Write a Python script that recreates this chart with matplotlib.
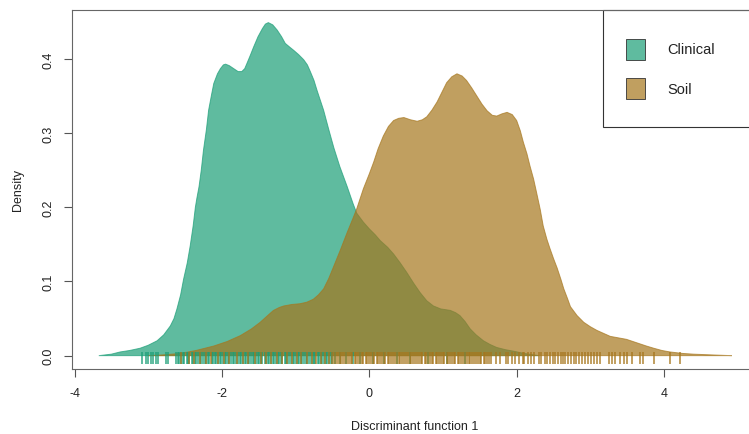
import matplotlib
matplotlib.use("Agg")
import matplotlib.pyplot as plt
from matplotlib.patches import Rectangle

plt.rcParams['font.family'] = ['Liberation Sans', 'DejaVu Sans']

# density curves
clin_x = [-3.67, -3.50, -3.38, -3.25, -3.11, -3.00, -2.88, -2.79, -2.70, -2.65,
          -2.61, -2.56, -2.52, -2.47, -2.43, -2.39, -2.36, -2.34, -2.31, -2.28,
          -2.25, -2.21, -2.18, -2.14, -2.11, -2.06, -2.02, -1.98, -1.95, -1.90,
          -1.84, -1.78, -1.73, -1.69, -1.66, -1.61, -1.57, -1.51, -1.45, -1.41,
          -1.37, -1.31, -1.25, -1.19, -1.14, -1.08, -1.03, -0.96, -0.89, -0.84,
          -0.80, -0.75, -0.71, -0.66, -0.62, -0.55, -0.48, -0.40, -0.30, -0.22,
          -0.17, -0.08, 0.00, 0.08, 0.15, 0.25, 0.33, 0.42, 0.51, 0.60,
          0.69, 0.78, 0.87, 0.97, 1.10, 1.17, 1.23, 1.30, 1.37, 1.45,
          1.55, 1.64, 1.73, 1.85, 1.96, 2.10, 2.30]
clin_y = [0.000, 0.002, 0.005, 0.007, 0.010, 0.014, 0.020, 0.028, 0.040, 0.050,
          0.063, 0.082, 0.103, 0.125, 0.148, 0.175, 0.200, 0.212, 0.228, 0.250,
          0.277, 0.305, 0.331, 0.352, 0.367, 0.380, 0.387, 0.392, 0.393, 0.391,
          0.387, 0.383, 0.383, 0.387, 0.394, 0.406, 0.416, 0.430, 0.441, 0.447,
          0.449, 0.446, 0.439, 0.430, 0.421, 0.416, 0.412, 0.406, 0.399, 0.392,
          0.383, 0.371, 0.358, 0.343, 0.331, 0.305, 0.280, 0.255, 0.228, 0.205,
          0.192, 0.180, 0.171, 0.163, 0.155, 0.146, 0.137, 0.125, 0.112, 0.098,
          0.085, 0.074, 0.067, 0.063, 0.061, 0.058, 0.054, 0.046, 0.036, 0.028,
          0.020, 0.015, 0.011, 0.008, 0.006, 0.003, 0.000]

soil_x = [-3.00, -2.80, -2.56, -2.35, -2.11, -1.93, -1.75, -1.60, -1.48, -1.38,
          -1.30, -1.22, -1.16, -1.05, -0.94, -0.85, -0.76, -0.69, -0.62, -0.55,
          -0.48, -0.39, -0.30, -0.23, -0.17, -0.08, 0.00, 0.06, 0.12, 0.19,
          0.26, 0.33, 0.40, 0.47, 0.56, 0.65, 0.72, 0.78, 0.85, 0.92,
          0.99, 1.05, 1.12, 1.19, 1.26, 1.32, 1.39, 1.46, 1.53, 1.60,
          1.67, 1.73, 1.80, 1.87, 1.94, 2.00, 2.05, 2.09, 2.14, 2.18,
          2.23, 2.27, 2.32, 2.36, 2.41, 2.45, 2.50, 2.55, 2.60, 2.64,
          2.69, 2.73, 2.82, 2.91, 3.00, 3.09, 3.18, 3.27, 3.38, 3.49,
          3.58, 3.67, 3.76, 3.86, 3.97, 4.08, 4.25, 4.40, 4.65, 4.92]
soil_y = [0.000, 0.001, 0.003, 0.007, 0.013, 0.019, 0.027, 0.036, 0.045, 0.054,
          0.061, 0.065, 0.067, 0.069, 0.070, 0.072, 0.076, 0.082, 0.090, 0.104,
          0.121, 0.143, 0.166, 0.183, 0.198, 0.225, 0.245, 0.261, 0.279, 0.296,
          0.309, 0.317, 0.320, 0.321, 0.318, 0.316, 0.318, 0.322, 0.331, 0.342,
          0.356, 0.368, 0.376, 0.380, 0.377, 0.371, 0.361, 0.350, 0.339, 0.330,
          0.324, 0.323, 0.326, 0.328, 0.325, 0.317, 0.303, 0.288, 0.272, 0.256,
          0.238, 0.220, 0.197, 0.175, 0.157, 0.145, 0.131, 0.118, 0.103, 0.090,
          0.077, 0.066, 0.054, 0.045, 0.039, 0.034, 0.030, 0.026, 0.024, 0.022,
          0.019, 0.016, 0.013, 0.010, 0.007, 0.005, 0.003, 0.002, 0.001, 0.000]

# rug positions (estimated)
clin_rug = [-3.09, -3.03, -3.00, -2.96, -2.94, -2.90, -2.87, -2.76, -2.73,
            -2.62, -2.60, -2.58, -2.55, -2.53, -2.51, -2.48, -2.46, -2.44, -2.41,
            -2.39, -2.37, -2.35, -2.32, -2.30, -2.28, -2.26, -2.23, -2.21, -2.19,
            -2.17, -2.14, -2.12, -2.10, -2.08, -2.05, -2.03, -2.01, -1.99, -1.96,
            -1.94, -1.92, -1.90, -1.87, -1.85, -1.83, -1.81, -1.78, -1.76, -1.74,
            -1.72, -1.69, -1.67, -1.65, -1.63, -1.60, -1.58, -1.56, -1.54, -1.51,
            -1.49, -1.47, -1.45, -1.42, -1.40, -1.38, -1.36, -1.33, -1.31, -1.29,
            -1.27, -1.24, -1.22, -1.20, -1.18, -1.15, -1.13, -1.11, -1.09, -1.06,
            -1.04, -1.02, -1.00, -0.97, -0.95, -0.93, -0.91, -0.88, -0.86, -0.84,
            -0.82, -0.79, -0.77, -0.75, -0.73, -0.70, -0.68, -0.66, -0.64, -0.61,
            -0.59, -0.57, -0.55, -0.52, -0.50, -0.47,
            -0.40, -0.31, -0.22, -0.12, 0.05, 0.20, 0.38, 0.55, 0.80, 1.05, 1.30]
soil_rug = [-2.56, -2.45, -2.38, -2.30, -2.22, -2.15, -2.05, -1.97, -1.90, -1.80,
            -1.72, -1.65, -1.55, -1.47, -1.40, -1.33, -1.25, -1.18, -1.12, -1.05,
            -0.98, -0.92, -0.85, -0.78, -0.72, -0.66, -0.60, -0.55,
            -0.50, -0.48, -0.45, -0.43, -0.40, -0.38, -0.35, -0.33, -0.30, -0.28,
            -0.25, -0.23, -0.20, -0.18, -0.15, -0.13, -0.10, -0.08, -0.05, -0.03,
            0.00, 0.02, 0.05, 0.07, 0.10, 0.12, 0.15, 0.17, 0.20, 0.22,
            0.25, 0.27, 0.30, 0.32, 0.35, 0.37, 0.40, 0.42, 0.45, 0.47,
            0.50, 0.52, 0.55, 0.57, 0.60, 0.62, 0.65, 0.67, 0.70, 0.72,
            0.75, 0.77, 0.80, 0.82, 0.85, 0.87, 0.90, 0.92, 0.95, 0.97,
            1.00, 1.02, 1.05, 1.07, 1.10, 1.12, 1.15, 1.17, 1.20, 1.22,
            1.25, 1.27, 1.30, 1.32, 1.35, 1.37, 1.40, 1.42, 1.45, 1.47,
            1.50, 1.52, 1.55, 1.57, 1.60, 1.62, 1.65,
            1.72, 1.78, 1.85, 1.88, 1.94, 1.98, 2.03, 2.08, 2.10, 2.15,
            2.20, 2.24, 2.30, 2.33, 2.38, 2.41, 2.45, 2.49, 2.52, 2.56,
            2.60, 2.63, 2.66, 2.70, 2.74, 2.78, 2.81, 2.85, 2.88, 2.93,
            2.97, 3.01, 3.05, 3.09, 3.13, 3.25, 3.29, 3.34, 3.40, 3.45,
            3.50, 3.56, 3.67, 3.72, 3.86, 4.08, 4.22]

groups = ["Clinical", "Soil"]
teal = (0x1B / 255, 0x9E / 255, 0x77 / 255, 0.7)
brown = (0xA6 / 255, 0x76 / 255, 0x1D / 255, 0.7)
xticks = [-4, -2, 0, 2, 4]
yticks = [0.0, 0.1, 0.2, 0.3, 0.4]

W, H = 749, 435
fig = plt.figure(figsize=(W / 100, H / 100), dpi=100)
ax = fig.add_axes([72.3 / W, 65 / H, 684.6 / W, 359 / H])

ax.fill(clin_x, clin_y, facecolor=teal, edgecolor=teal, lw=0.7)
ax.fill(soil_x, soil_y, facecolor=brown, edgecolor=brown, lw=0.7)
ax.vlines(clin_rug, -0.011, 0.0055, color=teal, lw=1.4)
ax.vlines(soil_rug, -0.011, 0.0055, color=brown, lw=1.4)

ax.set_xlim(-4.03, 5.26)
ax.set_ylim(-0.018, 0.466)
ax.set_xticks(xticks)
ax.set_xticklabels([str(t) for t in xticks])
ax.set_yticks(yticks)
ax.set_yticklabels(["%.1f" % t for t in yticks], rotation=90, va="center")
ax.tick_params(length=6, width=0.8, color="#555555", labelsize=9,
               labelcolor="#222222", pad=7)

for s in ax.spines.values():
    s.set_color("#666666")
    s.set_linewidth(0.8)

ax.set_xlabel("Discriminant function 1", fontsize=9, color="#222222", va="center")
ax.set_ylabel("Density", fontsize=9, color="#222222", va="center")
ax.xaxis.set_label_coords(0.5, -0.159)
ax.yaxis.set_label_coords(-0.0793, 0.5)

# legend box, R style
ax.add_patch(Rectangle((0.7752, 0.6741), 0.3, 0.3259, transform=ax.transAxes,
                       facecolor="white", edgecolor="#333333", lw=0.8, clip_on=False))
for col, name, yb, yt in [(teal, groups[0], 0.8607, 0.890), (brown, groups[1], 0.7521, 0.7813)]:
    ax.add_patch(Rectangle((0.8088, yb), 0.0278, 0.0585, transform=ax.transAxes,
                           facecolor=col, edgecolor="#333333", lw=0.6, clip_on=False))
    ax.text(0.8687, yt, name, transform=ax.transAxes, fontsize=10.5,
            va="center", ha="left", color="#222222")

fig.savefig("out.png", dpi=100)
